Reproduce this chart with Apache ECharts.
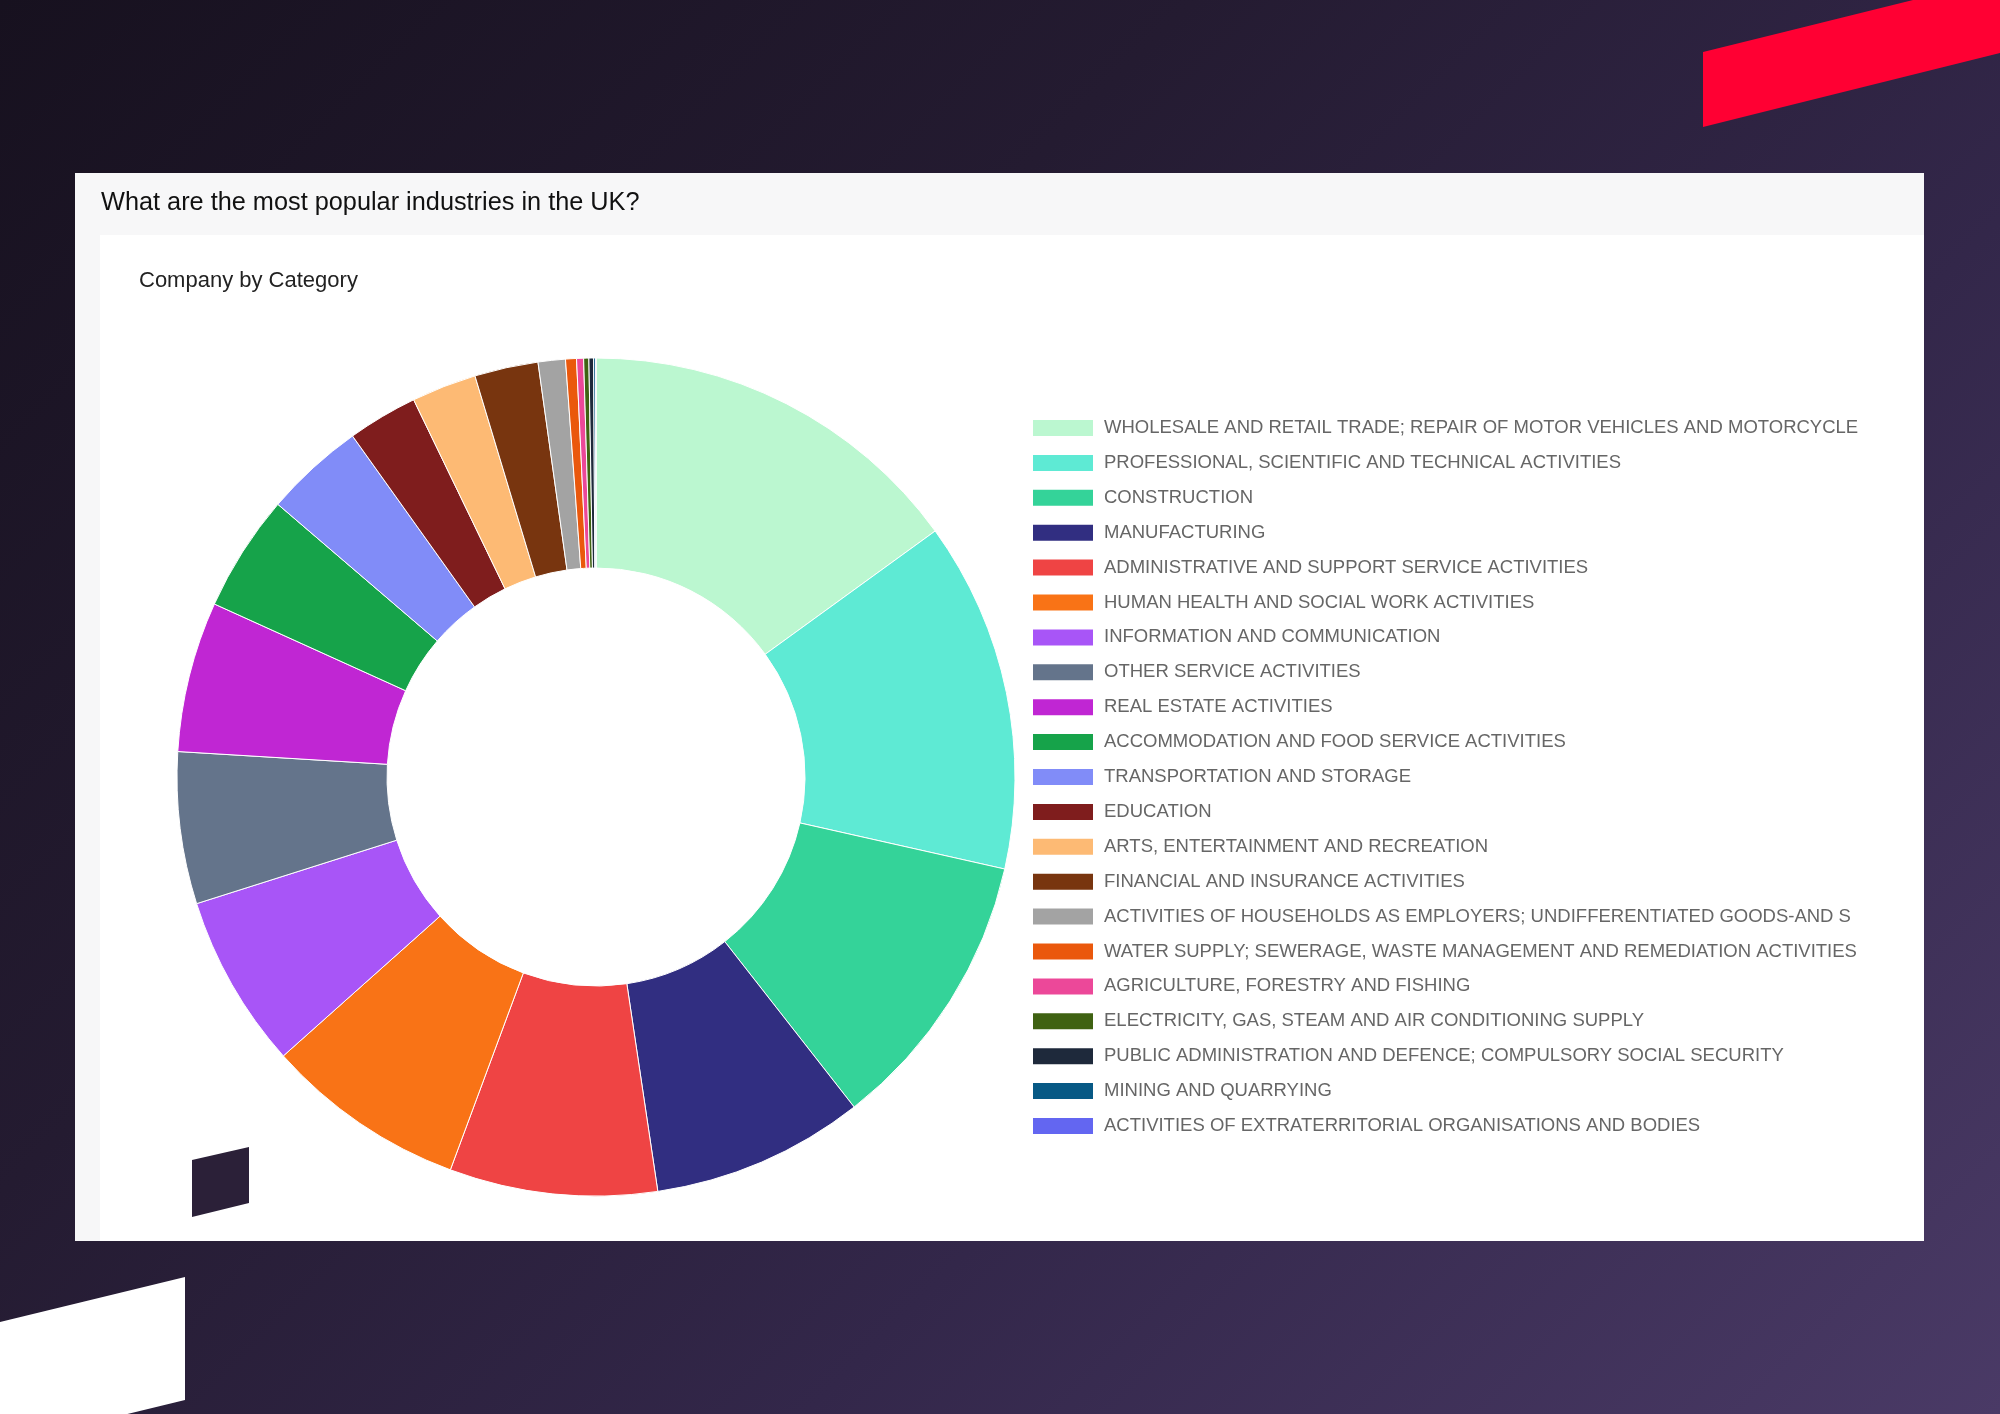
<!DOCTYPE html>
<html>
<head>
<meta charset="utf-8">
<script src="https://cdn.jsdelivr.net/npm/echarts@6/dist/echarts.min.js"></script>
<style>
  html, body { margin: 0; padding: 0; width: 2000px; height: 1414px; overflow: hidden; }
  body { background: linear-gradient(135deg, #17111f 0%, #241b31 35%, #33274a 65%, #4a3a66 100%); position: relative; font-family: "Liberation Sans", Arial, sans-serif; }
  #deco { position: absolute; left: 0; top: 0; width: 2000px; height: 1414px; }
  #card { position: absolute; left: 75px; top: 173px; width: 1849px; height: 1068px; background: #f7f7f8; }
  #panel { position: absolute; left: 100px; top: 235px; width: 1824px; height: 1006px; background: #ffffff; }
  #deco2 { position: absolute; left: 0; top: 0; width: 2000px; height: 1414px; }
  #chart { position: absolute; left: 0; top: 0; width: 2000px; height: 1414px; }
</style>
</head>
<body>
<svg id="deco" width="2000" height="1414">
  <polygon points="1703,52 1913,0 2000,0 2000,53 1703,127" fill="#ff0033"/>
  <polygon points="0,1322 185,1277 185,1400 0,1445" fill="#ffffff"/>
</svg>
<div id="card"></div>
<div id="panel"></div>
<svg id="deco2" width="2000" height="1414">
  <polygon points="192,1160 249,1147 249,1203 192,1217" fill="#2b2038"/>
</svg>
<div id="chart"></div>
<script>
// ---- data ----
const categories = [
  "WHOLESALE AND RETAIL TRADE; REPAIR OF MOTOR VEHICLES AND MOTORCYCLES",
  "PROFESSIONAL, SCIENTIFIC AND TECHNICAL ACTIVITIES",
  "CONSTRUCTION",
  "MANUFACTURING",
  "ADMINISTRATIVE AND SUPPORT SERVICE ACTIVITIES",
  "HUMAN HEALTH AND SOCIAL WORK ACTIVITIES",
  "INFORMATION AND COMMUNICATION",
  "OTHER SERVICE ACTIVITIES",
  "REAL ESTATE ACTIVITIES",
  "ACCOMMODATION AND FOOD SERVICE ACTIVITIES",
  "TRANSPORTATION AND STORAGE",
  "EDUCATION",
  "ARTS, ENTERTAINMENT AND RECREATION",
  "FINANCIAL AND INSURANCE ACTIVITIES",
  "ACTIVITIES OF HOUSEHOLDS AS EMPLOYERS; UNDIFFERENTIATED GOODS-AND SERVICES-PRODUCING ACTIVITIES OF HOUSEHOLDS FOR OWN USE",
  "WATER SUPPLY; SEWERAGE, WASTE MANAGEMENT AND REMEDIATION ACTIVITIES",
  "AGRICULTURE, FORESTRY AND FISHING",
  "ELECTRICITY, GAS, STEAM AND AIR CONDITIONING SUPPLY",
  "PUBLIC ADMINISTRATION AND DEFENCE; COMPULSORY SOCIAL SECURITY",
  "MINING AND QUARRYING",
  "ACTIVITIES OF EXTRATERRITORIAL ORGANISATIONS AND BODIES"
];
// share of companies (%)
const shares = [15.0, 13.5, 10.9, 8.2, 8.0, 7.75, 6.7, 5.85, 5.8, 4.5, 3.85, 2.7, 2.5, 2.45, 1.05, 0.42, 0.27, 0.2, 0.18, 0.08, 0.01];
const colors = [
  "#bbf7d0", "#5eead4", "#34d399", "#312e81", "#ef4444", "#f97316", "#a855f7",
  "#64748b", "#c026d3", "#16a34a", "#818cf8", "#7f1d1d", "#fdba74", "#78350f",
  "#a3a3a3", "#ea580c", "#ec4899", "#3f6212", "#1e293b", "#075985", "#6366f1"
];
const pageTitle = "What are the most popular industries in the UK?";
const chartTitle = "Company by Category";

const chart = echarts.init(document.getElementById('chart'), null, { renderer: 'canvas' });
chart.setOption({
  backgroundColor: 'transparent',
  animation: false,
  color: colors,
  title: [
    {
      text: pageTitle, left: 101, top: 188, padding: 0,
      textStyle: { fontFamily: 'Liberation Sans', fontSize: 25.3, fontWeight: 'normal', color: '#111111', lineHeight: 30 }
    },
    {
      text: chartTitle, left: 139, top: 268, padding: 0,
      textStyle: { fontFamily: 'Liberation Sans', fontSize: 22, fontWeight: 'normal', color: '#222222', lineHeight: 26 }
    }
  ],
  legend: {
    orient: 'vertical',
    left: 1031, top: 418, padding: 0,
    itemWidth: 62, itemHeight: 18, itemGap: 14.9,
    icon: 'rect',
    data: categories,
    textStyle: {
      fontFamily: 'Liberation Sans', fontSize: 18.5, color: '#666666', lineHeight: 18,
      width: 758, overflow: 'truncate', ellipsis: '', padding: [0, 0, 0, 5]
    }
  },
  series: [{
    type: 'pie',
    center: [596, 777],
    radius: [209, 419],
    startAngle: 90,
    clockwise: true,
    avoidLabelOverlap: false,
    label: { show: false },
    labelLine: { show: false },
    itemStyle: { borderColor: '#ffffff', borderWidth: 1 },
    emphasis: { disabled: true },
    data: categories.map((c, i) => ({ name: c, value: shares[i] }))
  }]
});
</script>
</body>
</html>
